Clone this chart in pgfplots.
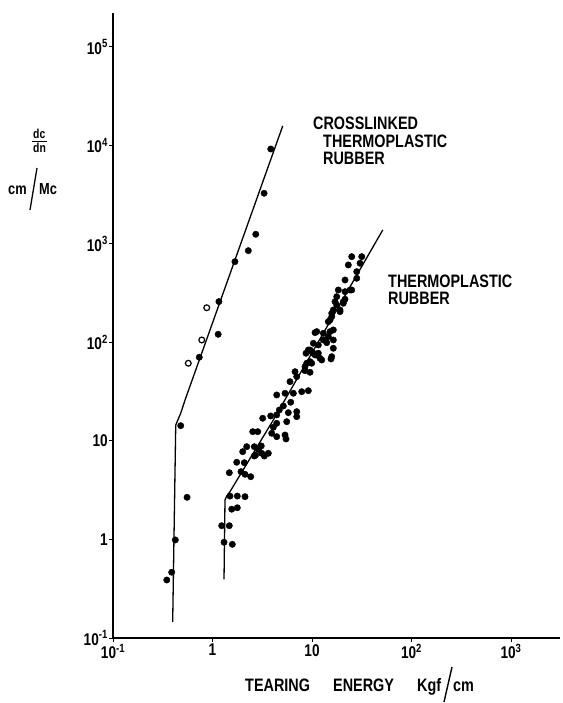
\documentclass[border=0pt]{standalone}
\usepackage{fontspec}
\setmainfont{Liberation Sans}[FakeStretch=0.8]
\usepackage{pgfplots}
\pgfplotsset{compat=1.18}

\begin{document}
\bfseries
\begin{tikzpicture}[x=1bp,y=1bp]
\useasboundingbox (0,0) rectangle (563,703);
\begin{axis}[
  at={(113bp,65bp)}, anchor=south west,
  scale only axis, width=447bp, height=625bp,
  xmode=log, ymode=log,
  xmin=0.1, xmax=3105, ymin=0.1, ymax=221000,
  axis x line=bottom, axis y line=left,
  axis line style={-, line width=1.3bp, black},
  tick align=outside, major tick length=4bp,
  tick style={line width=1bp, black},
  xminorticks=false, yminorticks=false,
  xtick={0.1,1,10,100,1000},
  xticklabels={10\textsuperscript{-1},1,10,10\textsuperscript{2},10\textsuperscript{3}},
  ytick={0.1,1,10,100,1000,10000,100000},
  yticklabels={10\textsuperscript{-1},1,10,10\textsuperscript{2},10\textsuperscript{3},10\textsuperscript{4},10\textsuperscript{5}},
  ticklabel style={font=\fontsize{17bp}{17bp}\selectfont\bfseries},
  yticklabel style={inner sep=1bp},
  xticklabel style={inner sep=2bp},
  clip=false,
]
% crosslinked thermoplastic rubber: fitted line
\addplot[black, line width=1.3bp, mark=none] coordinates {
  (0.398,0.146) (0.427,14.5) (0.479,19.1) (0.530,26.1) (5.08,15800)
};
% crosslinked: filled points
\addplot[only marks, mark=*, mark size=3.2bp, black] coordinates {
  (3.85,9200) (3.3,3270) (2.72,1254) (2.29,855) (1.68,661) (1.16,260)
  (1.14,121) (0.736,70.8) (0.479,14.3) (0.555,2.68) (0.423,0.99)
  (0.389,0.465) (0.347,0.388)
};
% crosslinked: open points
\addplot[only marks, mark=o, mark size=2.9bp, black, mark options={fill=white, line width=1.2bp}] coordinates {
  (0.875,225) (0.78,106) (0.571,61.5)
};
% thermoplastic rubber: fitted line
\addplot[black, line width=1.3bp, mark=none] coordinates {
  (1.305,0.394) (1.335,2.52) (1.389,2.76) (1.499,3.06) (4.08,16.3) (51.4,1387)
};
% thermoplastic rubber: points
\addplot[only marks, mark=*, mark size=3.2bp, black] coordinates {
  (1.305,0.937) (1.581,0.893) (1.237,1.38) (1.475,1.38) (1.560,2.03)
  (1.775,2.10) (1.499,2.76) (1.775,2.76) (2.121,2.72) (1.475,4.76)
  (1.933,4.88) (2.121,4.59) (2.420,4.34) (1.751,6.08) (2.087,6.02)
  (2.011,7.79) (2.207,8.75) (2.631,8.75) (2.886,8.24) (3.122,7.50)
  (3.638,7.50) (3.316,7.04) (2.535,12.43) (2.847,12.43) (3.936,11.97)
  (4.418,11.06) (5.354,11.50) (5.480,10.48) (4.418,15.12) (5.569,15.70)
  (4.083,13.77) (3.194,17.0) (3.845,17.94) (7.02,17.65) (5.78,19.38)
  (4.692,20.64) (5.148,22.67) (7.02,19.84) (6.11,24.71) (4.418,29.31)
  (5.354,30.5) (6.49,30.5) (7.88,31.66) (9.18,32.4) (6.01,40.0)
  (7.02,44.96) (6.75,50.5) (8.50,51.7) (9.55,49.8) (8.84,61.5)
  (9.93,61.5) (8.70,77.7) (9.55,83.9) (11.15,74.7) (12.03,69.1)
  (15.52,68.0) (16.37,87.3) (14.05,99.5) (11.57,94.3) (10.31,98.1)
  (25.06,743) (31.59,743) (30.37,637) (23.16,612) (28.14,523)
  (21.46,431) (28.14,448) (25.06,341) (18.38,341) (17.71,291.7)
  (21.46,274.5) (17.03,259.6) (20.63,259.6) (16.37,213.8) (19.11,213.8)
  (15.78,182.7) (14.58,162.6) (11.15,128.8) (12.99,124.0) (16.37,134.0)
  (14.58,114.5) (12.99,106.0) (16.37,106.0) (9.18,83.9) (10.31,77.7)
  (15.78,71.7) (11.57,77.7) (8.50,56.8) (10.72,125.8) (15.16,128.8)
  (13.51,106) (15.78,197.8) (20.63,250) (21.46,328) (24.09,341)
  (2.63,7.04) (9.55,63.8) (9.93,80.6) (10.72,74.7) (12.52,66.4)
  (17.71,240) (19.11,205.6) (15.16,169) (4.418,18.4) (3.09,8.9)
  (2.71,7.2)
};
\end{axis}
% curve annotations
\begin{scope}[every node/.style={anchor=base west, inner sep=0pt, font=\fontsize{18bp}{18bp}\selectfont\bfseries}]
\node at (313,573) {CROSSLINKED};
\node at (323,555) {THERMOPLASTIC};
\node at (323,538) {RUBBER};
\node at (388,415) {THERMOPLASTIC};
\node at (388,398) {RUBBER};
% x label
\node at (245,11) {TEARING};
\node at (333,11) {ENERGY};
\node at (417,11) {Kgf};
\node at (453,11) {cm};
\end{scope}
\draw[line width=1.4bp] (444,1) -- (452,36);
% y label
\begin{scope}[every node/.style={anchor=base west, inner sep=0pt, font=\fontsize{13bp}{13bp}\selectfont\bfseries}]
\node at (33,564) {dc};
\node at (33,550) {dn};
\end{scope}
\draw[line width=1.2bp] (32,561.5) -- (47,561.5);
\begin{scope}[every node/.style={anchor=base west, inner sep=0pt, font=\fontsize{16bp}{16bp}\selectfont\bfseries}]
\node at (8,508) {cm};
\node at (39,508) {Mc};
\end{scope}
\draw[line width=1.3bp] (30,493) -- (37,535);
\end{tikzpicture}
\end{document}
